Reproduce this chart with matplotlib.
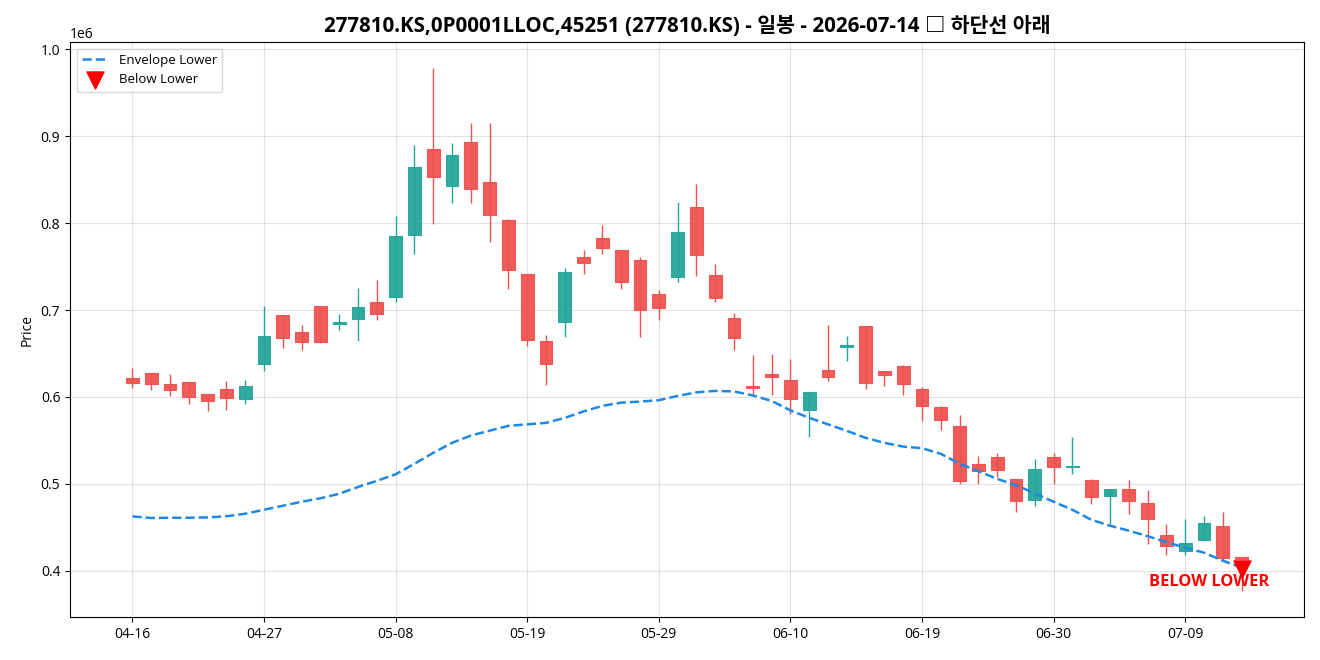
import numpy as np
import matplotlib
matplotlib.use("Agg")
import matplotlib.pyplot as plt
from matplotlib.patches import Rectangle

plt.rcParams['font.family'] = ['Open Sans', 'Noto Sans CJK KR', 'DejaVu Sans']

title = "277810.KS,0P0001LLOC,45251 (277810.KS) - 일봉 - 2026-07-14 □ 하단선 아래"
tick_labels = ["04-16", "04-27", "05-08", "05-19", "05-29", "06-10", "06-19", "06-30", "07-09"]

opens = [621500, 627200, 614600, 616900, 603100, 608900, 598000, 637600, 693900, 674400,
         704300, 684000, 689400, 708800, 714600, 785900, 885800, 843300, 893900, 847900,
         804200, 741000, 664000, 685900, 760600, 782400, 768600, 757100, 718000, 737600,
         819200, 740200, 690500, 612600, 626100, 619200, 584700, 630700, 657100, 681300,
         629500, 635300, 608900, 588200, 566300, 522600, 530700, 505400, 481300, 530700,
         519500, 504300, 485900, 493900, 477800, 441000, 422600, 435300, 451400, 415200]
highs = [633000, 628000, 626400, 617000, 603500, 618400, 619500, 704600, 694300, 683100,
         704600, 695400, 725300, 734500, 808000, 889700, 978500, 892700, 914900, 914900,
         804600, 741500, 671300, 748300, 769000, 797700, 769000, 760600, 723000, 824100,
         844800, 752900, 696900, 648300, 649400, 643700, 605400, 682800, 669800, 681300,
         630000, 636800, 611100, 589700, 579300, 532200, 535300, 505400, 528700, 535300,
         554000, 505400, 494300, 504300, 493100, 453700, 459400, 462900, 467800, 415500]
lows = [610700, 608400, 601500, 592300, 584200, 585100, 592300, 630200, 656700, 654000,
        662400, 677000, 664700, 688500, 709500, 764400, 798900, 823400, 823400, 778500,
        724500, 659000, 613800, 669300, 741700, 764700, 724500, 669300, 688900, 732600,
        739400, 709500, 654400, 603400, 602300, 580800, 554400, 618700, 641700, 609500,
        613000, 602300, 572800, 562400, 500300, 500300, 507700, 467000, 473900, 499200,
        511800, 476200, 453700, 464700, 430700, 417600, 417600, 435300, 412300, 376700]
closes = [615700, 614600, 607700, 600300, 595800, 599200, 612300, 669800, 667500, 663600,
          663600, 686000, 703100, 695800, 784700, 865100, 853700, 878200, 839900, 808900,
          745600, 665200, 637600, 743300, 753700, 770900, 731800, 699700, 701900, 789300,
          762900, 713400, 667500, 610000, 622600, 597400, 605400, 623300, 660100, 615700,
          624900, 614600, 589300, 573200, 503100, 514600, 515700, 480100, 516900, 519200,
          520500, 484700, 493900, 480100, 459400, 428400, 431800, 454800, 414600, 414000]
env_lower = [462400, 460600, 460900, 460900, 461300, 462600, 465500, 470100, 474700, 479300,
             483300, 488500, 496300, 503400, 510900, 523000, 535600, 547100, 555500, 561100,
             566700, 568400, 570100, 575900, 583300, 589700, 593400, 594600, 596200, 601100,
             605200, 606900, 606300, 601700, 595400, 584500, 575900, 568400, 560900, 552900,
             547100, 542800, 541000, 534500, 523000, 514400, 505700, 498300, 489100, 479300,
             470100, 458600, 451700, 446000, 439700, 432800, 426400, 420700, 411500, 403400]
below_idx = [59]
below_val = [402300]

up_color = '#26a69a'
down_color = '#ef5350'
env_color = '#1e88e5'

fig = plt.figure(figsize=(13.2, 6.6), dpi=100)
ax = fig.add_axes([70/1320, 1-617/660, (1304-70)/1320, (617-42)/660])

n = len(opens)
x = np.arange(n)
width = 0.68
for i in range(n):
    o, h, l, c = opens[i], highs[i], lows[i], closes[i]
    col = up_color if c >= o else down_color
    ax.vlines(x[i], l, h, color=col, linewidth=1.0, zorder=2)
    bottom = min(o, c)
    height = abs(c - o)
    if height < 1500:
        height = 1500
        bottom = (o + c) / 2 - 750
    ax.add_patch(Rectangle((x[i] - width/2, bottom), width, height,
                           facecolor=col, edgecolor=col, alpha=0.95, linewidth=0.8, zorder=3))

ax.plot(x, env_lower, linestyle='--', color=env_color, linewidth=1.8, label='Envelope Lower', zorder=4)
ax.scatter(below_idx, below_val, marker='v', s=150, color='red', label='Below Lower', zorder=5)
for xi, yi in zip(below_idx, below_val):
    ax.annotate('BELOW LOWER', xy=(xi, yi), xytext=(-23.5, -9.5), textcoords='offset points',
                ha='center', va='center', color='red', fontsize=11.8, fontweight='bold', zorder=6)

ax.update_datalim([(-0.34, min(lows)), (n - 1 + 0.34, max(highs))])
ax.autoscale_view()
ax.margins(x=0.05, y=0.05)

ax.set_xticks(x[::7])
ax.set_xticklabels(tick_labels, fontsize=10)
ax.tick_params(axis='y', labelsize=10)
ax.set_title(title, fontsize=14.8, fontweight='bold', pad=7)
ax.set_ylabel('Price', fontsize=10)
ax.grid(True, color='#d0d0d0', alpha=0.6, linewidth=0.8)
ax.set_axisbelow(True)
ax.legend(loc='upper left', fontsize=9.5)

fig.savefig('out.png', dpi=100)
